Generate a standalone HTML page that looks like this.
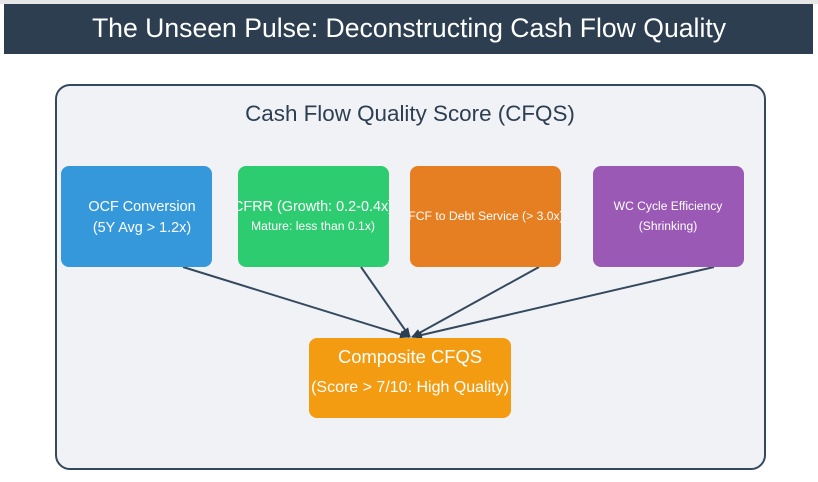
<!DOCTYPE html>
<html><head><meta charset="utf-8"><style>
html,body{margin:0;padding:0;background:#fff;width:818px;height:482px;overflow:hidden;font-family:"Liberation Sans",Arial,sans-serif}
</style></head><body>
<svg width="818" height="482" xmlns="http://www.w3.org/2000/svg" font-family="Liberation Sans, Arial, sans-serif">
<defs>
<clipPath id="c1"><rect x="61" y="166" width="151" height="101"/></clipPath>
<clipPath id="c2"><rect x="238" y="166" width="151" height="101"/></clipPath>
<clipPath id="c3"><rect x="410" y="166" width="151" height="101"/></clipPath>
<clipPath id="c4"><rect x="593" y="166" width="151" height="101"/></clipPath>
<marker id="ah" markerWidth="10" markerHeight="8" refX="9" refY="4" orient="auto" markerUnits="userSpaceOnUse"><path d="M0,0 L10,4 L0,8 z" fill="#2c3e50"/></marker>
</defs>
<rect x="0" y="0" width="818" height="4" fill="#e6e6e6"/>
<rect x="4" y="4" width="809" height="50" fill="#2c3e50"/>
<text x="409" y="37" text-anchor="middle" fill="#fff" font-size="26.6">The Unseen Pulse: Deconstructing Cash Flow Quality</text>
<rect x="56" y="85" width="709" height="384" rx="14" fill="#f0f2f6" stroke="#34495e" stroke-width="2"/>
<text x="410" y="121" text-anchor="middle" fill="#2c3e50" font-size="22.4">Cash Flow Quality Score (CFQS)</text>
<g stroke="#34495e" stroke-width="2" fill="none">
<line x1="183" y1="267" x2="409" y2="337" marker-end="url(#ah)"/>
<line x1="361" y1="267" x2="410" y2="337" marker-end="url(#ah)"/>
<line x1="539" y1="267" x2="412" y2="337" marker-end="url(#ah)"/>
<line x1="714" y1="267" x2="413" y2="337" marker-end="url(#ah)"/>
</g>
<rect x="61" y="166" width="151" height="101" rx="8" fill="#3498db"/>
<rect x="238" y="166" width="151" height="101" rx="8" fill="#2ecc71"/>
<rect x="410" y="166" width="151" height="101" rx="8" fill="#e67e22"/>
<rect x="593" y="166" width="151" height="101" rx="8" fill="#9b59b6"/>
<g fill="#fff" text-anchor="middle">
<g clip-path="url(#c1)"><text x="142" y="211" font-size="14.4">OCF Conversion</text><text x="142" y="232" font-size="14.4">(5Y Avg &gt; 1.2x)</text></g>
<g clip-path="url(#c2)"><text x="313" y="211" font-size="14.4">CFRR (Growth: 0.2-0.4x)</text><text x="313" y="230" font-size="12.2">Mature: less than 0.1x)</text></g>
<g clip-path="url(#c3)"><text x="486" y="220" font-size="12.2">FCF to Debt Service (&gt; 3.0x)</text></g>
<g clip-path="url(#c4)"><text x="668" y="210" font-size="12.1">WC Cycle Efficiency</text><text x="668" y="230" font-size="12.1">(Shrinking)</text></g>
</g>
<rect x="309" y="338" width="202" height="80" rx="8" fill="#f39c12"/>
<text x="410" y="363" text-anchor="middle" fill="#fff" font-size="18.4">Composite CFQS</text>
<text x="410" y="392" text-anchor="middle" fill="#fff" font-size="16">(Score &gt; 7/10: High Quality)</text>
</svg>
</body></html>
